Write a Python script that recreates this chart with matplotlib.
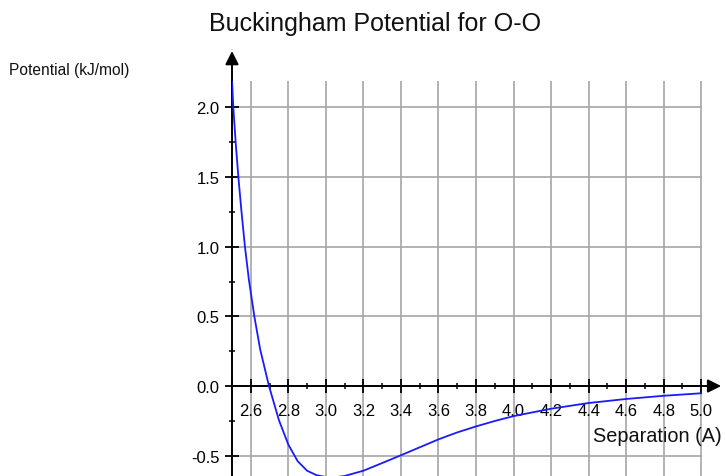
import matplotlib
matplotlib.use('Agg')
import matplotlib.pyplot as plt
from matplotlib.ticker import MultipleLocator, FormatStrFormatter

plt.rcParams['font.family'] = ['Liberation Sans', 'DejaVu Sans']

# curve (separation in A, potential in kJ/mol)
separation = [2.500, 2.507, 2.520, 2.534, 2.550, 2.569, 2.590, 2.619, 2.650, 2.697,
              2.750, 2.800, 2.850, 2.900, 2.950, 3.000, 3.050, 3.100, 3.200, 3.300,
              3.400, 3.500, 3.600, 3.700, 3.800, 3.900, 4.000, 4.200, 4.400, 4.600,
              4.800, 5.000]
potential = [2.20, 2.00, 1.74, 1.50, 1.26, 1.00, 0.763, 0.50, 0.264, 0.00,
             -0.245, -0.42, -0.54, -0.608, -0.64, -0.653, -0.655, -0.646, -0.608, -0.553,
             -0.497, -0.44, -0.383, -0.333, -0.29, -0.251, -0.216, -0.163, -0.122, -0.093,
             -0.070, -0.052]

x_range = (2.5, 5.0)
y_range = (-0.646, 2.19)

fig = plt.figure(figsize=(7.25, 4.77), dpi=100)
ax = fig.add_axes([232 / 725, 0.0, 470 / 725, 1 - 82 / 477])
ax.set_xlim(x_range[0], x_range[1] + 0.004)
ax.set_ylim(*y_range)

ax.xaxis.set_major_locator(MultipleLocator(0.2))
ax.xaxis.set_minor_locator(MultipleLocator(0.1))
ax.yaxis.set_major_locator(MultipleLocator(0.5))
ax.yaxis.set_minor_locator(MultipleLocator(0.25))
ax.xaxis.set_major_formatter(FormatStrFormatter('%.1f'))
ax.yaxis.set_major_formatter(FormatStrFormatter('%.1f'))

ax.grid(True, which='major', color='#a6a6a6', linewidth=1.2, zorder=0)
ax.set_axisbelow(True)

ax.spines['top'].set_visible(False)
ax.spines['right'].set_visible(False)
ax.spines['bottom'].set_position(('data', 0))
for s in ('bottom', 'left'):
    ax.spines[s].set_linewidth(1.4)
    ax.spines[s].set_color('black')
    ax.spines[s].set_zorder(3)

ax.tick_params(which='major', direction='inout', length=10, width=1.3, labelsize=12,
               colors='black')
ax.tick_params(which='minor', direction='inout', length=5, width=1.1, colors='black')
ax.tick_params(axis='x', which='major', pad=7)
ax.tick_params(axis='y', which='major', pad=4)

ax.plot(separation, potential, color='#1a1aff', linewidth=1.3, zorder=4)

# arrow heads on both axes
arrow = dict(arrowstyle='-|>', color='black', lw=1.4, mutation_scale=20,
             shrinkA=0, shrinkB=0)
ax.annotate('', xy=(5.106, 0), xytext=(4.9, 0), arrowprops=arrow,
            annotation_clip=False)
ax.annotate('', xy=(2.5, 2.405), xytext=(2.5, 2.1), arrowprops=arrow,
            annotation_clip=False)

fig.text(375 / 725, 1 - 24 / 477, 'Buckingham Potential for O-O', ha='center',
         va='center', fontsize=18, color='#111111')
fig.text(69.5 / 725, 1 - 70 / 477, 'Potential (kJ/mol)', ha='center', va='center',
         fontsize=11.2, color='#111111')
fig.text(593 / 725, 1 - 437 / 477, 'Separation (A)', ha='left', va='center',
         fontsize=14.3, color='#111111')

fig.savefig('out.png', dpi=100)
